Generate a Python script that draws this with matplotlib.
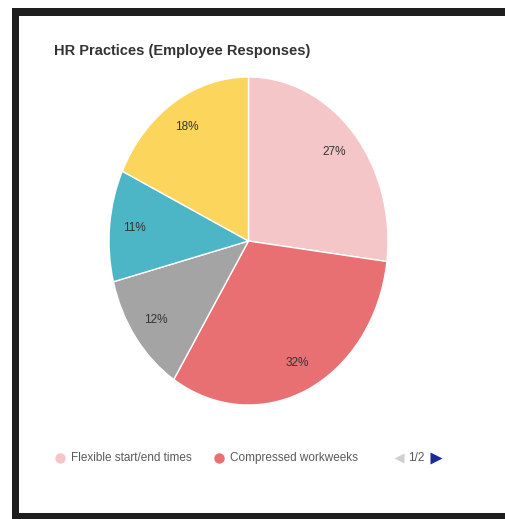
import matplotlib.pyplot as plt
from matplotlib.patches import Rectangle

# --- datos ---
titulo = 'HR Practices (Employee Responses)'
porcentajes = [27, 32, 12, 11, 18]
colores = ['#F5C6C8', '#E87073', '#A4A4A4', '#4DB6C6', '#FCD55C']
leyenda_textos = ['Flexible start/end times', 'Compressed workweeks']
leyenda_colores = colores[:2]
pagina = '1/2'

W, H = 505, 519
fig = plt.figure(figsize=(W / 100, H / 100), dpi=100)
fig.patch.set_facecolor('white')

# capa en pixeles para marco, titulo y leyenda
capa = fig.add_axes([0, 0, 1, 1])
capa.set_xlim(0, W)
capa.set_ylim(H, 0)
capa.axis('off')

negro = '#1e1e1e'
capa.add_patch(Rectangle((12, 8), W - 12, 8, color=negro, lw=0))
capa.add_patch(Rectangle((12, 8), 7, H - 8, color=negro, lw=0))
capa.add_patch(Rectangle((12, 513), W - 12, 6, color=negro, lw=0))

capa.text(54, 51, titulo, fontsize=10.5, fontweight='bold', color='#333333',
          family='Liberation Sans', va='center', ha='left')

# leyenda paginada (solo la primera pagina)
x_items = [60, 219]
for x, txt, c in zip(x_items, leyenda_textos, leyenda_colores):
    capa.plot(x, 458, 'o', ms=7.5, color=c, mec='none')
    capa.text(x + 11, 458, txt, fontsize=8.5, color='#5a5a5a',
              family='Liberation Sans', va='center', ha='left')
capa.plot(399, 458, '<', ms=6.5, color='#d0d0d0', mec='none')
capa.text(408, 458, pagina, fontsize=8.5, color='#5a5a5a',
          family='Liberation Sans', va='center', ha='left')
capa.plot(436, 458, '>', ms=8.5, color='#1a2a9a', mec='none')

# grafica de torta (ligeramente estirada en vertical)
ax = fig.add_axes([109 / W, (H - 405) / H, 279 / W, 328 / H])
wedges, textos, autotextos = ax.pie(
    porcentajes, colors=colores, startangle=90, counterclock=False,
    autopct=lambda p: f'{p:.0f}%', pctdistance=0.82,
    wedgeprops=dict(edgecolor='white', linewidth=1.0),
    textprops=dict(fontsize=8.5, color='#333333', family='Liberation Sans'))
ax.set_aspect('auto')
ax.set_xlim(-1, 1)
ax.set_ylim(-1, 1)

fig.savefig('out.png', dpi=100)
